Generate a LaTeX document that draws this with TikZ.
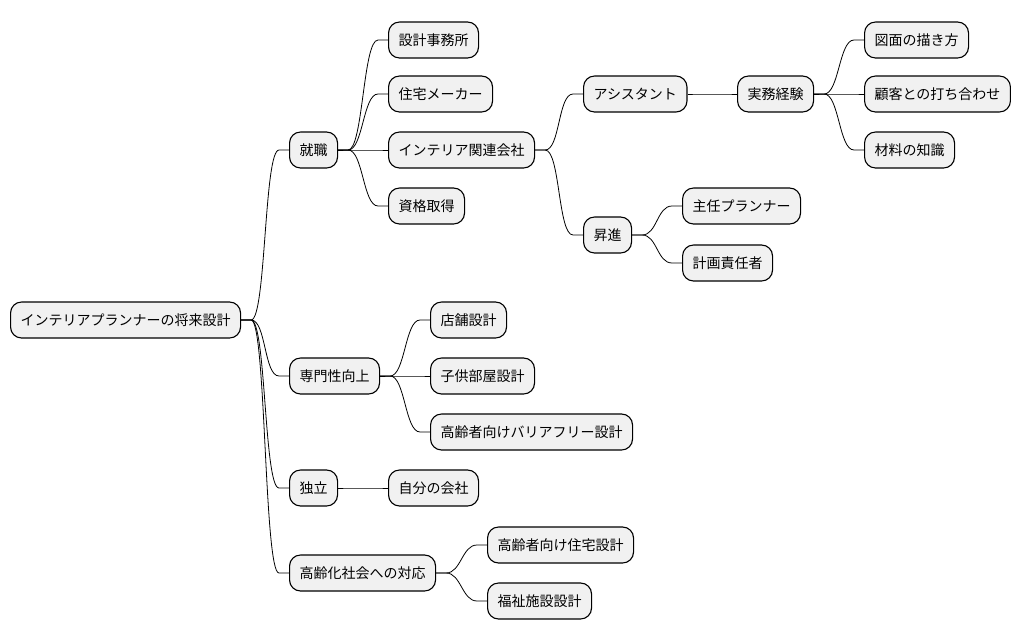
\documentclass[tikz,border=0pt]{standalone}
\usepackage{fontspec}
\setmainfont{Noto Sans CJK JP}
\usepackage{xcolor}
\usetikzlibrary{calc, positioning}
\definecolor{boxfill}{HTML}{F1F1F1}

% connector: stub, S-curve, stub
\newcommand{\branch}[2]{%
  \draw[edge] (#1.east) -- ++(10,0)
    .. controls ($(#1.east)+(25,0)$) and ($(#2.west)+(-25,0)$) ..
    ($(#2.west)+(-10,0)$) -- (#2.west);}

\begin{document}
\begin{tikzpicture}[x=1pt, y=-1pt,
    box/.style={draw, line width=1.1pt, fill=boxfill, rounded corners=11pt,
      minimum height=36pt, inner xsep=10pt, inner ysep=0pt, anchor=west,
      font=\fontsize{14}{16}\selectfont},
    edge/.style={line width=0.8pt}]

    \useasboundingbox (0,0) rectangle (1020,640);

    % =================================================================
    % 1. ROOT AND FIRST LEVEL
    % =================================================================
    \node[box] (root) at (10,320) {インテリアプランナーの将来設計};

    \node[box] (job)   at (289,150) {就職};
    \node[box] (spec)  at (289,376) {専門性向上};
    \node[box] (indep) at (289,488) {独立};
    \node[box] (aging) at (289,573) {高齢化社会への対応};

    % =================================================================
    % 2. BRANCH: 就職
    % =================================================================
    \node[box] (office)   at (388,40)  {設計事務所};
    \node[box] (house)    at (388,94)  {住宅メーカー};
    \node[box] (interior) at (388,150) {インテリア関連会社};
    \node[box] (license)  at (388,206) {資格取得};

    \node[box] (assist) at (583,94)  {アシスタント};
    \node[box] (promo)  at (583,235) {昇進};

    \node[box] (practice) at (737,94) {実務経験};

    \node[box] (drawing)  at (864,40)  {図面の描き方};
    \node[box] (client)   at (864,94)  {顧客との打ち合わせ};
    \node[box] (material) at (864,150) {材料の知識};

    \node[box] (chief)   at (682,206) {主任プランナー};
    \node[box] (planner) at (682,263) {計画責任者};

    % =================================================================
    % 3. BRANCHES: 専門性向上, 独立, 高齢化社会への対応
    % =================================================================
    \node[box] (shop)    at (430,320) {店舗設計};
    \node[box] (kids)    at (430,376) {子供部屋設計};
    \node[box] (barrier) at (430,432) {高齢者向けバリアフリー設計};

    \node[box] (company) at (388,488) {自分の会社};

    \node[box] (elderly) at (487,545) {高齢者向け住宅設計};
    \node[box] (welfare) at (487,601) {福祉施設設計};

    % =================================================================
    % 4. CONNECTORS
    % =================================================================
    \foreach \c in {job, spec, indep, aging} {\branch{root}{\c}}
    \foreach \c in {office, house, interior, license} {\branch{job}{\c}}
    \foreach \c in {assist, promo} {\branch{interior}{\c}}
    \branch{assist}{practice}
    \foreach \c in {drawing, client, material} {\branch{practice}{\c}}
    \foreach \c in {chief, planner} {\branch{promo}{\c}}
    \foreach \c in {shop, kids, barrier} {\branch{spec}{\c}}
    \branch{indep}{company}
    \foreach \c in {elderly, welfare} {\branch{aging}{\c}}

\end{tikzpicture}
\end{document}
